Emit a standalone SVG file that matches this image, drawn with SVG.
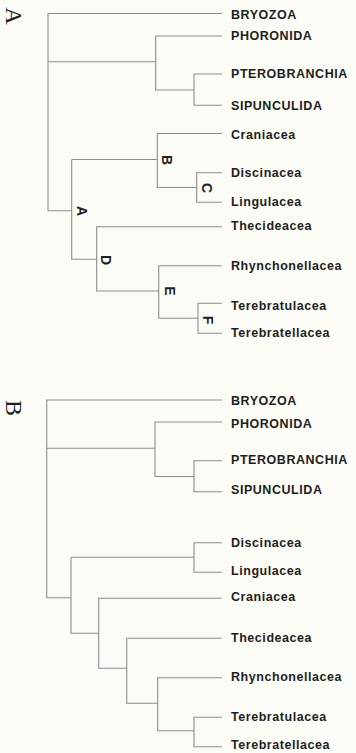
<svg xmlns="http://www.w3.org/2000/svg" width="356" height="753" viewBox="0 0 356 753">
<style>
.bg{fill:#fcfcf6}
.ln{fill:none;stroke:#8c8c8c;stroke-width:1.1}
.tx{font-family:"Liberation Sans",Arial,sans-serif;font-weight:bold;font-size:12.5px;letter-spacing:0.55px;fill:#1e1e1e}
.lb{font-family:"Liberation Sans",Arial,sans-serif;font-weight:bold;font-size:14px;fill:#1e1e1e;text-anchor:middle;dominant-baseline:central}
.tt{font-family:"Liberation Serif","Times New Roman",serif;font-size:24px;fill:#1e1e1e;text-anchor:middle}
</style>
<rect class="bg" x="0" y="0" width="356" height="753"/>
<g id="titles">
<text class="tt" transform="translate(6,16) rotate(90)">A</text>
<text class="tt" transform="translate(6,408) rotate(90)">B</text>
</g>
<g id="connectors" class="ln">
<path d="M222,13.5 H48 V210.7 H71.7"/>
<path d="M48,61.7 H155.7"/>
<path d="M222,36 H155.7 V90 H194"/>
<path d="M222,74 H194 V105.3 H222"/>
<path d="M71.7,159.5 V259.3 H96.7"/>
<path d="M71.7,159.5 H157.3"/>
<path d="M222,133.5 H157.3 V187.5 H196.7"/>
<path d="M222,172.7 H196.7 V202.3 H222"/>
<path d="M222,226.7 H96.7 V291 H158.7"/>
<path d="M222,265.7 H158.7 V318.3 H198"/>
<path d="M222,303.3 H198 V333.3 H222"/>
<path d="M222,400 H46.7 V597.7 H71"/>
<path d="M46.7,448.3 H155"/>
<path d="M222,422 H155 V476.5 H194"/>
<path d="M222,460.7 H194 V491.7 H222"/>
<path d="M71,557.3 V633.3 H98.7"/>
<path d="M71,557.3 H194"/>
<path d="M222,542.7 H194 V572.3 H222"/>
<path d="M222,598.3 H98.7 V668.3 H126.7"/>
<path d="M222,638.3 H126.7 V703.3 H157.7"/>
<path d="M222,677.7 H157.7 V730.7 H194"/>
<path d="M222,717.3 H194 V746.7 H222"/>
</g>
<g id="nodeA"><text class="lb" transform="translate(82,211) rotate(90)">A</text></g>
<g id="nodeB"><text class="lb" transform="translate(167,160) rotate(90)">B</text></g>
<g id="nodeC"><text class="lb" transform="translate(207,188) rotate(90)">C</text></g>
<g id="nodeD"><text class="lb" transform="translate(106,260) rotate(90)">D</text></g>
<g id="nodeE"><text class="lb" transform="translate(170,291) rotate(90)">E</text></g>
<g id="nodeF"><text class="lb" transform="translate(208,320) rotate(90)">F</text></g>
<g id="a-bryozoa"><text class="tx" x="231" y="18.7">BRYOZOA</text></g>
<g id="a-phoronida"><text class="tx" x="231" y="40.3">PHORONIDA</text></g>
<g id="a-pterobranchia"><text class="tx" x="231" y="78.3">PTEROBRANCHIA</text></g>
<g id="a-sipunculida"><text class="tx" x="231" y="109.8">SIPUNCULIDA</text></g>
<g id="a-craniacea"><text class="tx" x="231" y="138.5">Craniacea</text></g>
<g id="a-discinacea"><text class="tx" x="231" y="176.5">Discinacea</text></g>
<g id="a-lingulacea"><text class="tx" x="231" y="205.5">Lingulacea</text></g>
<g id="a-thecideacea"><text class="tx" x="231" y="230.3">Thecideacea</text></g>
<g id="a-rhynchonellacea"><text class="tx" x="231" y="269.5">Rhynchonellacea</text></g>
<g id="a-terebratulacea"><text class="tx" x="231" y="309.5">Terebratulacea</text></g>
<g id="a-terebratellacea"><text class="tx" x="231" y="337.3">Terebratellacea</text></g>
<g id="b-bryozoa"><text class="tx" x="231" y="404.5">BRYOZOA</text></g>
<g id="b-phoronida"><text class="tx" x="231" y="427.5">PHORONIDA</text></g>
<g id="b-pterobranchia"><text class="tx" x="231" y="463.5">PTEROBRANCHIA</text></g>
<g id="b-sipunculida"><text class="tx" x="231" y="493.8">SIPUNCULIDA</text></g>
<g id="b-discinacea"><text class="tx" x="231" y="547">Discinacea</text></g>
<g id="b-lingulacea"><text class="tx" x="231" y="574.5">Lingulacea</text></g>
<g id="b-craniacea"><text class="tx" x="231" y="601">Craniacea</text></g>
<g id="b-thecideacea"><text class="tx" x="231" y="642">Thecideacea</text></g>
<g id="b-rhynchonellacea"><text class="tx" x="231" y="681">Rhynchonellacea</text></g>
<g id="b-terebratulacea"><text class="tx" x="231" y="721">Terebratulacea</text></g>
<g id="b-terebratellacea"><text class="tx" x="231" y="748.5">Terebratellacea</text></g>
</svg>
